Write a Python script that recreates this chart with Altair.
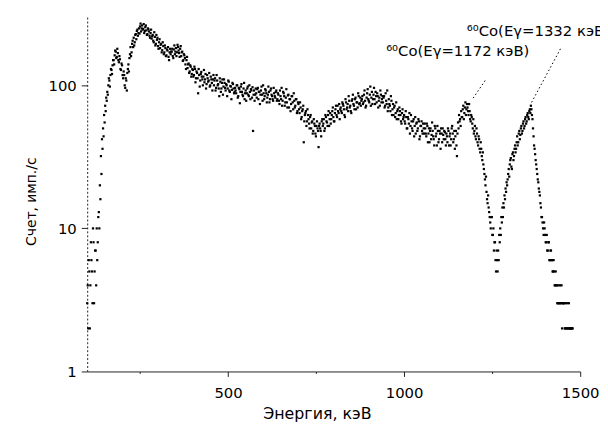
import altair as alt
import pandas as pd

# Channel calibration of the spectrum (keV): two interleaved channel sets
ENERGY_START_A = 100.0
ENERGY_START_B = 101.5
ENERGY_STEP = 3.0

# Count rate per channel (imp./s), 20 channels per row
counts_a = [
    3, 2, 5, 4, 6, 3, 8, 5, 7, 10, 8, 13, 20, 32, 42, 50, 62, 72, 82, 90,               # 100-157
    100, 108, 118, 128, 138, 150, 162, 172, 158, 168, 145, 152, 128, 138, 112, 118, 96, 108, 122, 140,  # 160-217
    155, 185, 170, 205, 215, 200, 228, 240, 222, 250, 258, 238, 262, 248, 232, 255, 242, 228, 246, 222,  # 220-277
    232, 212, 225, 200, 218, 195, 208, 188, 200, 182, 195, 176, 188, 170, 182, 162, 175, 158, 170, 165,  # 280-337
    172, 160, 178, 165, 182, 170, 185, 168, 180, 160, 172, 150, 162, 140, 150, 132, 142, 125, 135, 120,  # 340-397
    128, 118, 130, 112, 122, 88, 118, 108, 124, 110, 115, 105, 120, 102, 112, 108, 98, 115, 104, 110,    # 400-457
    100, 112, 96, 108, 102, 84, 106, 95, 110, 98, 104, 92, 100, 95, 106, 90, 98, 93, 102, 88,            # 460-517
    96, 88, 100, 84, 94, 90, 102, 86, 95, 80, 92, 88, 98, 84, 90, 94, 82, 48, 92, 86,                    # 520-577
    88, 94, 80, 90, 86, 98, 78, 88, 84, 92, 76, 86, 90, 80, 95, 84, 78, 88, 82, 92,                      # 580-637
    80, 86, 74, 84, 96, 78, 88, 72, 82, 76, 85, 70, 80, 74, 84, 68, 78, 72, 80, 66,                      # 640-697
    74, 64, 70, 60, 68, 40, 62, 66, 56, 62, 54, 60, 50, 56, 48, 54, 46, 52, 50, 37,                      # 700-757
    54, 48, 56, 52, 58, 50, 60, 55, 62, 52, 64, 58, 66, 60, 56, 68, 62, 72, 64, 58,                      # 760-817
    70, 64, 74, 68, 60, 76, 70, 66, 78, 72, 64, 80, 74, 68, 82, 76, 70, 84, 75, 72,                      # 820-877
    80, 74, 86, 78, 72, 88, 80, 76, 98, 82, 74, 86, 80, 90, 76, 84, 78, 72, 86, 80,                      # 880-937
    76, 84, 72, 78, 92, 70, 74, 66, 78, 68, 62, 72, 64, 58, 68, 62, 66, 56, 64, 58,                      # 940-997
    62, 54, 60, 50, 58, 64, 52, 56, 48, 58, 52, 46, 55, 50, 56, 44, 52, 48, 54, 46,                      # 1000-1057
    50, 44, 52, 46, 40, 50, 45, 48, 42, 52, 44, 38, 48, 42, 46, 50, 40, 45, 48, 42,                      # 1060-1117
    46, 40, 48, 44, 38, 50, 46, 42, 36, 48, 32, 55, 62, 58, 66, 60, 72, 64, 76, 68,                      # 1120-1177
    70, 62, 66, 56, 60, 50, 46, 52, 42, 46, 38, 42, 34, 36, 30, 28, 24, 20, 18, 15,                      # 1180-1237
    14, 12, 10, 12, 9, 7, 8, 5, 6, 7, 9, 10, 12, 14, 15, 17, 19, 21, 22, 26,                             # 1240-1297
    28, 31, 26, 34, 32, 38, 36, 44, 40, 48, 45, 52, 48, 56, 52, 60, 56, 64, 58, 68,                      # 1300-1357
    72, 62, 50, 38, 33, 28, 24, 21, 18, 15, 12, 11, 9, 10, 8, 9, 7, 8, 6, 7,                             # 1360-1417
    6, 5, 5, 4, 4, 3, 4, 3, 3, 4, 3, 3, 2, 3, 2, 2, 3, 2, 2, 2,                                          # 1420-1477
]

counts_b = [
    4, 6, 2, 8, 5, 10, 3, 7, 4, 6, 12, 10, 16, 24, 36, 44, 55, 66, 78, 86,                # 101.5-158.5
    112, 98, 130, 120, 150, 140, 175, 155, 180, 150, 160, 130, 142, 118, 125, 100, 112, 92, 130, 125,   # 161.5-218.5
    165, 160, 195, 185, 190, 225, 210, 245, 232, 230, 270, 250, 245, 268, 240, 262, 225, 250, 238, 215,  # 221.5-278.5
    245, 220, 205, 235, 190, 225, 215, 180, 210, 192, 170, 200, 165, 190, 160, 178, 185, 150, 180, 172,  # 281.5-338.5
    180, 155, 190, 172, 160, 192, 175, 158, 188, 170, 148, 165, 155, 130, 158, 140, 122, 138, 115, 130,  # 341.5-398.5
    115, 135, 105, 125, 112, 130, 98, 120, 115, 100, 128, 110, 95, 118, 106, 122, 100, 110, 92, 118,     # 401.5-458.5
    108, 92, 118, 100, 95, 112, 90, 104, 86, 110, 96, 102, 84, 108, 92, 99, 80, 104, 95, 90,             # 461.5-518.5
    92, 100, 82, 96, 75, 98, 90, 84, 104, 88, 78, 95, 86, 100, 80, 92, 97, 86, 78, 95,                   # 521.5-578.5
    82, 96, 90, 74, 92, 86, 100, 80, 94, 88, 82, 98, 76, 92, 86, 80, 96, 84, 90, 78,                     # 581.5-638.5
    88, 78, 92, 80, 72, 90, 84, 76, 94, 70, 86, 80, 66, 84, 76, 88, 70, 80, 64, 76,                      # 641.5-698.5
    68, 76, 58, 66, 72, 56, 64, 52, 68, 58, 50, 62, 55, 46, 58, 52, 44, 56, 48, 52,                      # 701.5-758.5
    50, 44, 58, 54, 48, 62, 56, 52, 66, 58, 54, 62, 70, 56, 64, 72, 60, 66, 74, 68,                      # 761.5-818.5
    66, 76, 72, 62, 80, 68, 74, 84, 70, 66, 78, 86, 72, 80, 68, 76, 88, 74, 82, 78,                      # 821.5-878.5
    84, 76, 92, 70, 82, 94, 78, 86, 72, 90, 80, 96, 74, 84, 88, 70, 82, 92, 76, 84,                      # 881.5-938.5
    82, 70, 88, 74, 66, 80, 72, 84, 62, 74, 70, 60, 76, 66, 58, 70, 62, 54, 68, 60,                      # 941.5-998.5
    56, 66, 50, 60, 54, 46, 62, 50, 56, 44, 60, 54, 48, 58, 42, 52, 56, 46, 50, 54,                      # 1001.5-1058.5
    46, 54, 40, 50, 48, 42, 55, 44, 38, 50, 46, 52, 40, 48, 36, 46, 50, 42, 47, 38,                      # 1061.5-1118.5
    44, 50, 38, 46, 42, 52, 40, 48, 44, 38, 46, 50, 56, 52, 60, 68, 58, 70, 62, 74,                      # 1121.5-1178.5
    66, 74, 58, 62, 54, 58, 48, 44, 50, 40, 44, 36, 40, 32, 34, 26, 22, 23, 16, 17,                      # 1181.5-1238.5
    13, 11, 12, 9, 10, 8, 6, 7, 5, 6, 8, 9, 11, 12, 14, 16, 18, 20, 24, 23,                              # 1241.5-1298.5
    30, 27, 33, 30, 36, 34, 40, 38, 46, 42, 50, 46, 54, 50, 58, 54, 62, 60, 66, 64,                      # 1301.5-1358.5
    68, 58, 44, 36, 30, 26, 22, 19, 17, 14, 12, 10, 11, 9, 8, 7, 8, 6, 7, 6,                             # 1361.5-1418.5
    5, 6, 4, 5, 4, 3, 3, 4, 3, 2, 3, 3, 2, 2, 3, 2, 2, 2, 2, 2,                                          # 1421.5-1478.5
]

energy_a = [ENERGY_START_A + ENERGY_STEP * i for i in range(len(counts_a))]
energy_b = [ENERGY_START_B + ENERGY_STEP * i for i in range(len(counts_b))]

# Annotations (positions in data units: keV, imp./s)
ann_text = ["⁶⁰Co(Eγ=1172 кэВ)", "⁶⁰Co(Eγ=1332 кэВ)"]
ann_x = [949, 1178]
ann_y = [161, 221]

# Dotted leader lines from the labels to the peaks
lead_x1 = [1230, 1444]
lead_y1 = [108, 180]
lead_x2 = [1194, 1362]
lead_y2 = [80, 76]

spec_df = pd.DataFrame({"E": energy_a + energy_b, "N": counts_a + counts_b})
ann_df = pd.DataFrame({"E": ann_x, "N": ann_y, "label": ann_text})
lead_df = pd.DataFrame({"E": lead_x1, "N": lead_y1, "E2": lead_x2, "N2": lead_y2})

FONT = "DejaVu Sans"

xs = alt.Scale(domain=[100, 1500], nice=False, zero=False)
ys = alt.Scale(type="log", domain=[1, 300], nice=False)

xaxis = alt.Axis(
    title="Энергия, кэВ",
    values=[250, 500, 750, 1000, 1250, 1500],
    format="d",
    labelExpr="datum.value % 500 === 0 ? datum.label : ''",
    tickSize={"condition": {"test": "datum.value % 500 !== 0", "value": 2}, "value": 5},
    labelPadding=9,
    labelFlush=False,
    labelFontSize=15,
    titleFontSize=16,
    titleX=232,
    titleY=48,
    titleAlign="center",
    titleBaseline="alphabetic",
    grid=False,
)
yaxis = alt.Axis(
    title="Счет, имп./с",
    values=[1, 10, 100],
    format="d",
    tickSize=6,
    labelPadding=5,
    labelFlush=False,
    labelFontSize=15,
    titleFontSize=14,
    titleX=-52,
    titleY=186,
    titleAngle=270,
    titleAlign="center",
    titleBaseline="alphabetic",
    domainDash=[2, 2],
    grid=False,
)

points = alt.Chart(spec_df).mark_square(size=5, color="black", opacity=1).encode(
    x=alt.X("E:Q", scale=xs, axis=xaxis),
    y=alt.Y("N:Q", scale=ys, axis=yaxis),
)

leaders = alt.Chart(lead_df).mark_rule(color="black", strokeWidth=1, strokeDash=[1.5, 2.5]).encode(
    x=alt.X("E:Q", scale=xs, axis=xaxis),
    y=alt.Y("N:Q", scale=ys, axis=yaxis),
    x2="E2:Q",
    y2="N2:Q",
)

labels = alt.Chart(ann_df).mark_text(
    align="left", baseline="alphabetic", font=FONT, fontSize=15, color="black"
).encode(
    x=alt.X("E:Q", scale=xs, axis=xaxis),
    y=alt.Y("N:Q", scale=ys, axis=yaxis),
    text="label:N",
)

chart = (
    alt.layer(points, leaders, labels)
    .properties(
        width=498,
        height=358,
        autosize=alt.AutoSizeParams(type="none"),
        padding={"left": 80, "top": 7, "right": 20, "bottom": 60},
        background="white",
    )
    .configure_axis(
        labelFont=FONT,
        titleFont=FONT,
        titleFontWeight="normal",
        labelColor="black",
        titleColor="black",
        domainColor="#222",
        tickColor="#222",
    )
    .configure_view(stroke=None)
)

chart.save("out.html", embed_options={"renderer": "svg", "actions": False})
